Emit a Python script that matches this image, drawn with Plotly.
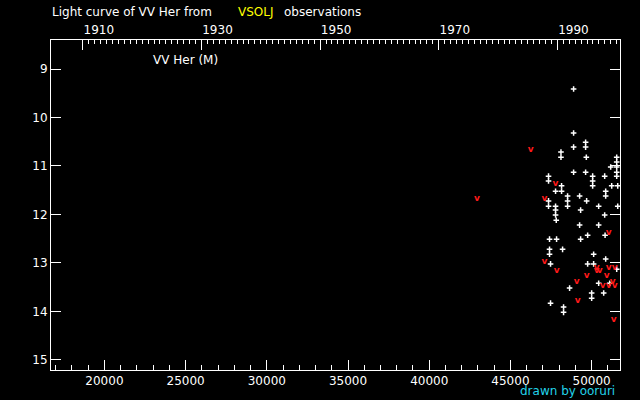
import datetime
import plotly.graph_objects as go

# ---- data (JD - 2400000, magnitude) ----
obs_jd = [48890, 48890, 49630, 48890, 49630, 48112, 48112, 49674, 51544, 51544,
          51174, 51544, 48890, 49630, 51544, 47346, 50063, 50803, 51544, 47346,
          50063, 48149, 50063, 51235, 51606, 47779, 48149, 50865, 48519, 49260,
          50865, 47346, 48519, 49692, 47346, 47779, 48519, 50433, 51606, 47779,
          49322, 47779, 50803, 47822, 49260, 50433, 49754, 50828, 47408, 47841,
          49322, 47408, 48211, 47408, 50124, 50865, 47470, 49754, 50124, 51544,
          50433, 51112, 48643, 50001, 50742, 50001, 47470, 48272, 48272]
obs_mag = [9.41, 10.32, 10.51, 10.61, 10.61, 10.71, 10.82, 10.82, 10.82, 10.92,
           11.02, 11.02, 11.13, 11.13, 11.13, 11.21, 11.21, 11.21, 11.21, 11.31,
           11.31, 11.41, 11.41, 11.41, 11.41, 11.52, 11.52, 11.52, 11.62, 11.62,
           11.62, 11.72, 11.72, 11.72, 11.83, 11.83, 11.83, 11.83, 11.83, 11.91,
           11.91, 12.01, 12.01, 12.12, 12.22, 12.22, 12.43, 12.43, 12.51, 12.51,
           12.51, 12.72, 12.72, 12.82, 12.82, 12.92, 13.02, 13.02, 13.02, 13.13,
           13.42, 13.42, 13.52, 13.62, 13.62, 13.73, 13.83, 13.91, 14.02]

lim_jd = [42945, 46248, 47779, 47100, 51050, 47100, 50310, 51050, 51421, 50310,
          50495, 47841, 49692, 50927, 49075, 51297, 50680, 51050, 51421, 49137, 51359]
lim_mag = [11.68, 10.67, 11.37, 11.68, 12.38, 12.98, 13.09, 13.09, 13.09, 13.17,
           13.17, 13.17, 13.27, 13.27, 13.38, 13.38, 13.48, 13.48, 13.48, 13.79, 14.18]

jd_ticks = [20000, 25000, 30000, 35000, 40000, 45000, 50000]
jd_minor = list(range(17000, 52000, 1000))
mag_ticks = [9, 10, 11, 12, 13, 14, 15]
decades = [1910, 1920, 1930, 1940, 1950, 1960, 1970, 1980, 1990, 2000]
decade_labels = ["1910", "", "1930", "", "1950", "", "1970", "", "1990", ""]
years = list(range(1910, 2001))


def jd_of_year(y):
    # JD - 2400000 at Jan 1, 0h
    return (datetime.date(y, 1, 1) - datetime.date(1858, 11, 17)).days + 0.5


FONT = "DejaVu Sans"
X_RANGE = [16710, 51747]

fig = go.Figure()
fig.add_trace(go.Scatter(
    x=obs_jd, y=obs_mag, mode="markers",
    marker=dict(symbol="cross-thin", size=4, color="white",
                line=dict(color="white", width=1.5)),
    showlegend=False, hoverinfo="skip"))
fig.add_trace(go.Scatter(
    x=lim_jd, y=lim_mag, mode="text", text=["v"] * len(lim_jd),
    textposition="middle center",
    textfont=dict(family=FONT, size=9, color="#ff1a1a", weight="bold"),
    showlegend=False, hoverinfo="skip"))
fig.add_trace(go.Scatter(x=[None], y=[None], xaxis="x2", yaxis="y",
                         showlegend=False, hoverinfo="skip"))

axis_common = dict(showgrid=False, zeroline=False, showline=True,
                   linecolor="white", linewidth=1, ticks="inside",
                   tickcolor="white", tickwidth=1, automargin=False,
                   tickfont=dict(family=FONT, size=12, color="white"))

fig.update_layout(
    width=640, height=400,
    margin=dict(l=51, r=20, t=40, b=30),
    paper_bgcolor="black", plot_bgcolor="black",
    xaxis=dict(range=X_RANGE, tickmode="array", tickvals=jd_ticks,
               ticktext=[str(v) for v in jd_ticks], ticklen=10,
               minor=dict(tickvals=jd_minor, ticklen=5, ticks="inside",
                          tickcolor="white", tickwidth=1, showgrid=False),
               mirror=False, **axis_common),
    xaxis2=dict(range=X_RANGE, overlaying="x", side="top", anchor="y",
                tickmode="array", tickvals=[jd_of_year(y) for y in decades],
                ticktext=decade_labels, ticklen=10, ticklabelshift=16,
                minor=dict(tickvals=[jd_of_year(y) for y in years], ticklen=4,
                           ticks="inside", tickcolor="white", tickwidth=1,
                           showgrid=False),
                **axis_common),
    yaxis=dict(range=[15.21, 8.40], tickmode="array", tickvals=mag_ticks,
               ticktext=[str(v) for v in mag_ticks], ticklen=10,
               mirror="ticks", **axis_common),
)

ann = [
    dict(text="Light curve of VV Her from", x=-0.002, y=1.085, color="white"),
    dict(text="VSOLJ", x=0.3251, y=1.085, color="#ffff00"),
    dict(text="observations", x=0.406, y=1.085, color="white"),
    dict(text="VV Her (M)", x=0.1749, y=0.9394, color="white"),
]
for a in ann:
    fig.add_annotation(text=a["text"], x=a["x"], y=a["y"], xref="paper", yref="paper",
                       xanchor="left", yanchor="middle", showarrow=False,
                       font=dict(family=FONT, size=12, color=a["color"]))
fig.add_annotation(text="drawn by ooruri", x=0.9947, y=-0.0636, xref="paper", yref="paper",
                   xanchor="right", yanchor="middle", showarrow=False,
                   font=dict(family=FONT, size=12, color="#22d4ea"))

fig.write_html(
    "out.html",
    config={"displayModeBar": False},
    post_script="document.body.style.margin='0';"
                "document.body.style.background='black';",
)
